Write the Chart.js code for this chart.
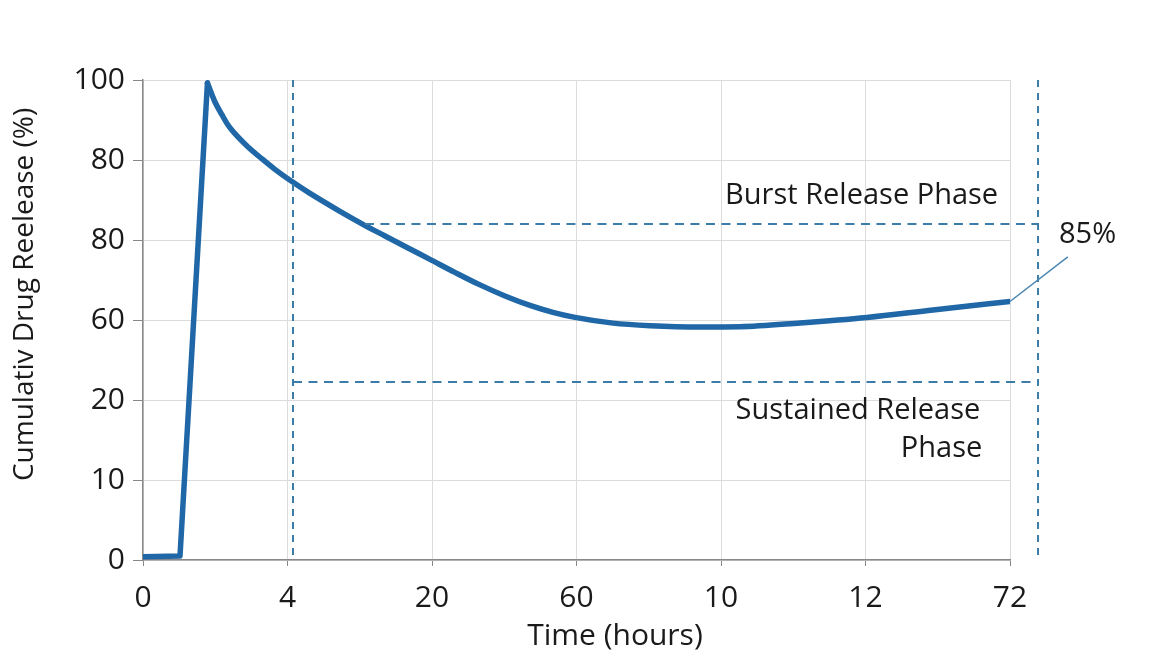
<!DOCTYPE html>
<html>
<head>
<meta charset="utf-8">
<script src="https://cdn.jsdelivr.net/npm/chart.js@4.4.1/dist/chart.umd.min.js"></script>
<style>
  body { margin: 0; background: #fff; }
  #wrap { width: 1172px; height: 657px; }
</style>
</head>
<body>
<div id="wrap"><canvas id="releaseChart" width="1172" height="657"></canvas></div>
<script>
// tick labels as printed on the original figure (evenly spaced)
const timeTickLabels = ['0', '4', '20', '60', '10', '12', '72'];
const releaseTickLabels = ['0', '10', '20', '60', '80', '80', '100'];

// lag + burst rise, in tick-step units
const riseTime = [0, 0.256, 0.446];
const riseValue = [0.04, 0.05, 5.963];

// decay after the peak, then the slow sustained climb
const decayTime = [0.446, 0.478, 0.498, 0.547, 0.588, 0.657, 0.727, 0.824, 0.913, 1.031, 1.142,
    1.363, 1.522, 1.675, 1.834, 1.986, 2.159, 2.332, 2.505, 2.678, 2.837, 2.990, 3.253, 3.509,
    3.855, 4.131, 4.547, 5.010, 5.467, 6.0];
const decayValue = [5.963, 5.813, 5.725, 5.563, 5.438, 5.288, 5.163, 5.013, 4.883, 4.730, 4.598,
    4.358, 4.196, 4.050, 3.900, 3.758, 3.595, 3.439, 3.301, 3.183, 3.096, 3.033, 2.961, 2.929,
    2.913, 2.916, 2.963, 3.031, 3.125, 3.231];

// phase markers
const phaseStart = 1.038;
const phaseEnd = 6.194;
const burstLevel = 4.2;
const burstFrom = 1.536;
const sustainedLevel = 2.225;

const FONT = '"Open Sans", "Noto Sans", sans-serif';
const lineColor = '#1f67a6';
const dashColor = '#3b7ca8';

// dashed phase lines, annotations and axis titles
const phasePlugin = {
    id: 'phases',
    afterDatasetsDraw(chart) {
        const { ctx, scales: { x, y } } = chart;
        ctx.save();
        ctx.strokeStyle = dashColor;
        ctx.lineWidth = 2;

        ctx.setLineDash([7, 6]);
        ctx.beginPath();
        ctx.moveTo(x.getPixelForValue(phaseStart), y.getPixelForValue(6));
        ctx.lineTo(x.getPixelForValue(phaseStart), y.getPixelForValue(0));
        ctx.moveTo(x.getPixelForValue(phaseEnd), y.getPixelForValue(6));
        ctx.lineTo(x.getPixelForValue(phaseEnd), y.getPixelForValue(0.06));
        ctx.stroke();

        ctx.setLineDash([9, 6.5]);
        ctx.beginPath();
        ctx.moveTo(x.getPixelForValue(burstFrom), y.getPixelForValue(burstLevel));
        ctx.lineTo(x.getPixelForValue(phaseEnd), y.getPixelForValue(burstLevel));
        ctx.moveTo(x.getPixelForValue(phaseStart), y.getPixelForValue(sustainedLevel));
        ctx.lineTo(x.getPixelForValue(phaseEnd), y.getPixelForValue(sustainedLevel));
        ctx.stroke();

        // leader line to the end value
        const lastX = decayTime[decayTime.length - 1];
        const lastY = decayValue[decayValue.length - 1];
        ctx.setLineDash([]);
        ctx.lineWidth = 1.5;
        ctx.strokeStyle = '#4a86b0';
        ctx.beginPath();
        ctx.moveTo(x.getPixelForValue(lastX), y.getPixelForValue(lastY));
        ctx.lineTo(x.getPixelForValue(6.4), y.getPixelForValue(3.79));
        ctx.stroke();

        ctx.fillStyle = '#1a1a1a';
        ctx.font = '29px ' + FONT;
        ctx.textBaseline = 'middle';
        ctx.textAlign = 'right';
        ctx.fillText('Burst Release Phase', x.getPixelForValue(5.918), y.getPixelForValue(4.55));
        ctx.fillText('Sustained Release', x.getPixelForValue(5.794), y.getPixelForValue(1.86));
        ctx.fillText('Phase', x.getPixelForValue(5.808), y.getPixelForValue(1.39));
        ctx.textAlign = 'left';
        ctx.fillText('85%', x.getPixelForValue(6.339), y.getPixelForValue(4.06));

        // axis titles
        ctx.textAlign = 'center';
        ctx.font = '30px ' + FONT;
        ctx.fillText('Time (hours)', x.getPixelForValue(3.266), 636);
        ctx.translate(25, y.getPixelForValue(3.32));
        ctx.rotate(-Math.PI / 2);
        ctx.font = '28px ' + FONT;
        ctx.fillText('Cumulativ Drug Reelease (%)', 0, 0);
        ctx.restore();
    }
};

const ctx = document.getElementById('releaseChart').getContext('2d');
new Chart(ctx, {
    type: 'line',
    data: {
        datasets: [
            {
                data: riseTime.map((t, i) => ({ x: t, y: riseValue[i] })),
                tension: 0,
            },
            {
                data: decayTime.map((t, i) => ({ x: t, y: decayValue[i] })),
                cubicInterpolationMode: 'monotone',
            },
        ],
    },
    options: {
        responsive: false,
        animation: false,
        devicePixelRatio: 1,
        layout: { padding: { top: 80, right: 162, left: 0, bottom: 0 } },
        elements: {
            line: {
                borderColor: lineColor,
                borderWidth: 5.5,
                borderCapStyle: 'round',
                borderJoinStyle: 'round',
                fill: false,
            },
            point: { radius: 0 },
        },
        plugins: { legend: { display: false }, tooltip: { enabled: false } },
        scales: {
            x: {
                type: 'linear',
                min: 0,
                max: 6,
                afterFit: (scale) => { scale.height = 97; },
                ticks: {
                    stepSize: 1,
                    padding: 14,
                    color: '#1a1a1a',
                    font: { family: FONT, size: 30 },
                    callback: (v) => timeTickLabels[v],
                },
                grid: { color: '#dcdcdc', lineWidth: 1, tickLength: 6, tickColor: '#888' },
                border: { color: '#888', width: 1.5 },
            },
            y: {
                type: 'linear',
                min: 0,
                max: 6,
                afterFit: (scale) => { scale.width = 143; },
                ticks: {
                    stepSize: 1,
                    padding: 8,
                    color: '#1a1a1a',
                    font: { family: FONT, size: 30 },
                    callback: (v) => releaseTickLabels[v],
                },
                grid: { color: '#dcdcdc', lineWidth: 1, tickLength: 10, tickColor: '#888' },
                border: { color: '#888', width: 1.5 },
            },
        },
    },
    plugins: [phasePlugin],
});
</script>
</body>
</html>
